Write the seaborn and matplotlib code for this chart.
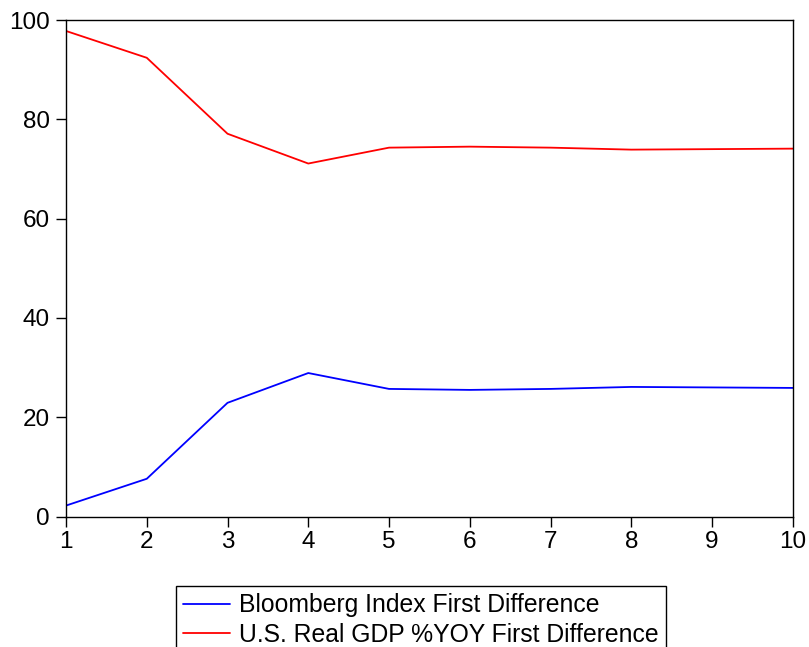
import pandas as pd
import seaborn as sns
import matplotlib
matplotlib.use("Agg")
import matplotlib.pyplot as plt

# variance decomposition periods and shares (%)
periods = [1, 2, 3, 4, 5, 6, 7, 8, 9, 10]
bloomberg = [2.2, 7.6, 22.9, 28.9, 25.7, 25.5, 25.7, 26.1, 26.0, 25.9]
gdp = [97.8, 92.4, 77.1, 71.1, 74.3, 74.5, 74.3, 73.9, 74.0, 74.1]
labels = ["Bloomberg Index First Difference", "U.S. Real GDP %YOY First Difference"]

df = pd.DataFrame({"period": periods, labels[0]: bloomberg, labels[1]: gdp})
long_df = df.melt(id_vars="period", var_name="series", value_name="share")

sns.set_style("ticks")
plt.rcParams["font.family"] = ["Liberation Sans", "DejaVu Sans"]
plt.rcParams["text.color"] = "black"

fig = plt.figure(figsize=(8.09, 6.47), dpi=100)
ax = fig.add_axes([0.0816, 0.2017, 0.8984, 0.7673])

sns.lineplot(data=long_df, x="period", y="share", hue="series",
             palette={labels[0]: "#0000ff", labels[1]: "#ff0000"},
             linewidth=1.3, ax=ax, legend=False)

ax.set_xlim(1, 10)
ax.set_ylim(0, 100)
ax.set_xticks(periods)
ax.set_yticks([0, 20, 40, 60, 80, 100])
ax.set_xlabel("")
ax.set_ylabel("")
ax.tick_params(axis="both", direction="out", length=7.5, width=1, colors="black",
               labelsize=17.5)
ax.tick_params(axis="x", pad=3)
ax.tick_params(axis="y", pad=4)
for s in ax.spines.values():
    s.set_color("black")
    s.set_linewidth(1.0)

handles = ax.get_lines()[:2]
leg = fig.legend(handles, labels, loc="upper center",
                 bbox_to_anchor=(0.52, 0.0943), fontsize=17.8, frameon=True,
                 fancybox=False, edgecolor="black", framealpha=1,
                 handlelength=1.9, handletextpad=0.35, labelspacing=0.22,
                 borderpad=0.3, borderaxespad=0, labelcolor="black")
leg.get_frame().set_linewidth(1.0)

fig.savefig("out.png", dpi=100)
